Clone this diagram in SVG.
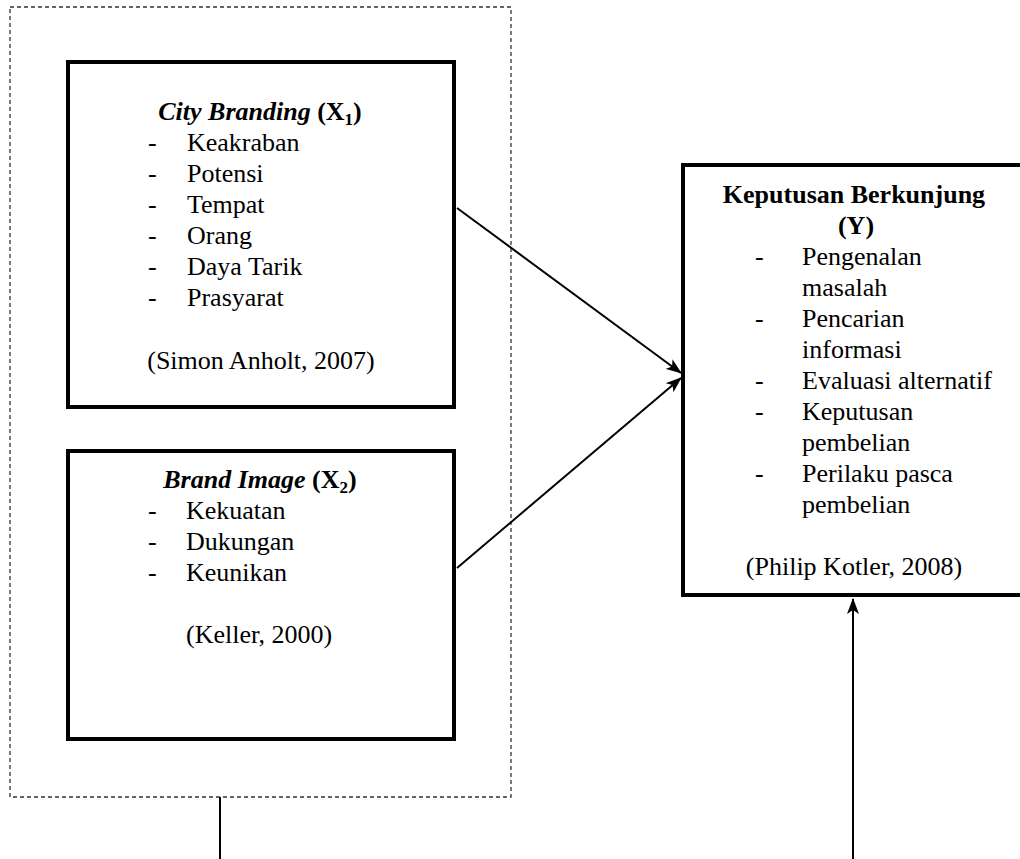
<svg xmlns="http://www.w3.org/2000/svg" width="1020" height="859" viewBox="0 0 1020 859">
<style>
text{font-family:"Liberation Serif","Times New Roman",serif;font-size:26px;fill:#000}
.box{fill:#fff;stroke:#000;stroke-width:4}
.b{font-weight:bold}
.bi{font-weight:bold;font-style:italic}
.mid{text-anchor:middle}
.conn{stroke:#000;stroke-width:2;fill:none}
</style>
<defs>
<marker id="ah" markerUnits="userSpaceOnUse" markerWidth="16" markerHeight="12" refX="15" refY="6" orient="auto">
<path d="M0,0 L16,6 L0,12 L4,6 z" fill="#000"/>
</marker>
</defs>
<rect width="1020" height="859" fill="#fff"/>
<g id="group-x">
<rect x="10" y="7" width="501" height="790" fill="none" stroke="#333" stroke-width="1.3" stroke-dasharray="4 3"/>
</g>
<g id="node-x1">
<rect class="box" x="68" y="62" width="386" height="345"/>
<text class="mid" x="260" y="120"><tspan class="bi">City Branding</tspan><tspan class="b"> (X</tspan><tspan class="b" font-size="17" dy="5">1</tspan><tspan class="b" dy="-5">)</tspan></text>
<text x="148" y="151">-</text><text x="187" y="151">Keakraban</text>
<text x="148" y="182">-</text><text x="187" y="182">Potensi</text>
<text x="148" y="213">-</text><text x="187" y="213">Tempat</text>
<text x="148" y="244">-</text><text x="187" y="244">Orang</text>
<text x="148" y="275">-</text><text x="187" y="275">Daya Tarik</text>
<text x="148" y="306">-</text><text x="187" y="306">Prasyarat</text>
<text class="mid" x="261" y="369">(Simon Anholt, 2007)</text>
</g>
<g id="node-x2">
<rect class="box" x="68" y="451" width="386" height="288"/>
<text class="mid" x="260" y="488"><tspan class="bi">Brand Image</tspan><tspan class="b"> (X</tspan><tspan class="b" font-size="17" dy="5">2</tspan><tspan class="b" dy="-5">)</tspan></text>
<text x="148" y="519">-</text><text x="186" y="519">Kekuatan</text>
<text x="148" y="550">-</text><text x="186" y="550">Dukungan</text>
<text x="148" y="581">-</text><text x="186" y="581">Keunikan</text>
<text x="186" y="643">(Keller, 2000)</text>
</g>
<g id="node-y">
<rect class="box" x="683" y="165" width="345" height="430"/>
<text class="mid b" x="854" y="203">Keputusan Berkunjung</text>
<text class="mid b" x="856" y="234">(Y)</text>
<text x="755" y="265">-</text><text x="802" y="265">Pengenalan</text>
<text x="802" y="296">masalah</text>
<text x="755" y="327">-</text><text x="802" y="327">Pencarian</text>
<text x="802" y="358">informasi</text>
<text x="755" y="389">-</text><text x="802" y="389">Evaluasi alternatif</text>
<text x="755" y="420">-</text><text x="802" y="420">Keputusan</text>
<text x="802" y="451">pembelian</text>
<text x="755" y="482">-</text><text x="802" y="482">Perilaku pasca</text>
<text x="802" y="513">pembelian</text>
<text class="mid" x="854" y="575">(Philip Kotler, 2008)</text>
</g>
<g id="connectors">
<line class="conn" x1="457" y1="208" x2="681" y2="373" marker-end="url(#ah)"/>
<line class="conn" x1="457" y1="568" x2="681" y2="378" marker-end="url(#ah)"/>
<line class="conn" x1="853" y1="859" x2="853" y2="599" marker-end="url(#ah)"/>
<line class="conn" x1="220" y1="797" x2="220" y2="859"/>
</g>
</svg>
